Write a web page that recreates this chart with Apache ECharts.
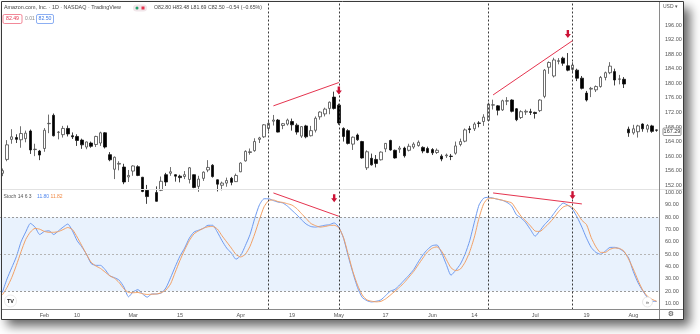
<!DOCTYPE html>
<html>
<head>
<meta charset="utf-8">
<script src="https://cdn.jsdelivr.net/npm/echarts@6/dist/echarts.min.js"></script>
<style>
  html, body { margin: 0; padding: 0; background: #fff; }
  #chart { width: 700px; height: 334px; }
</style>
</head>
<body>
<div id="chart"></div>
<script>
// trading days shown on the chart (AMZN daily, 2021)
const dates = [
  '2021-01-19','2021-01-20','2021-01-21','2021-01-22','2021-01-25','2021-01-26','2021-01-27','2021-01-28','2021-01-29',
  '2021-02-01','2021-02-02','2021-02-03','2021-02-04','2021-02-05','2021-02-08','2021-02-09','2021-02-10','2021-02-11','2021-02-12',
  '2021-02-16','2021-02-17','2021-02-18','2021-02-19','2021-02-22','2021-02-23','2021-02-24','2021-02-25','2021-02-26',
  '2021-03-01','2021-03-02','2021-03-03','2021-03-04','2021-03-05','2021-03-08','2021-03-09','2021-03-10','2021-03-11','2021-03-12',
  '2021-03-15','2021-03-16','2021-03-17','2021-03-18','2021-03-19','2021-03-22','2021-03-23','2021-03-24','2021-03-25','2021-03-26',
  '2021-03-29','2021-03-30','2021-03-31',
  '2021-04-01','2021-04-05','2021-04-06','2021-04-07','2021-04-08','2021-04-09','2021-04-12','2021-04-13','2021-04-14','2021-04-15',
  '2021-04-16','2021-04-19','2021-04-20','2021-04-21','2021-04-22','2021-04-23','2021-04-26','2021-04-27','2021-04-28','2021-04-29','2021-04-30',
  '2021-05-03','2021-05-04','2021-05-05','2021-05-06','2021-05-07','2021-05-10','2021-05-11','2021-05-12','2021-05-13','2021-05-14',
  '2021-05-17','2021-05-18','2021-05-19','2021-05-20','2021-05-21','2021-05-24','2021-05-25','2021-05-26','2021-05-27','2021-05-28',
  '2021-06-01','2021-06-02','2021-06-03','2021-06-04','2021-06-07','2021-06-08','2021-06-09','2021-06-10','2021-06-11',
  '2021-06-14','2021-06-15','2021-06-16','2021-06-17','2021-06-18','2021-06-21','2021-06-22','2021-06-23','2021-06-24','2021-06-25',
  '2021-06-28','2021-06-29','2021-06-30',
  '2021-07-01','2021-07-02','2021-07-06','2021-07-07','2021-07-08','2021-07-09','2021-07-12','2021-07-13','2021-07-14','2021-07-15',
  '2021-07-16','2021-07-19','2021-07-20','2021-07-21','2021-07-22','2021-07-23','2021-07-26','2021-07-27','2021-07-28','2021-07-29','2021-07-30',
  '2021-08-02','2021-08-03','2021-08-04','2021-08-05','2021-08-06','2021-08-09'
];

const openP = [
  155.3,159.1,164.6,165.1,164.5,164.8,166.9,161.8,161.4,
  162.1,168.9,171.2,166.5,165.9,167.6,165.6,165.4,164.4,162.5,163.6,163.2,163.6,166.4,160.4,156.4,157.8,157.0,154.3,
  155.9,157.1,154.2,150.6,149.6,150.0,150.6,154.9,155.3,154.9,154.5,154.4,153.6,154.9,151.7,153.9,156.2,157.5,153.5,152.0,152.6,153.9,153.0,
  155.7,158.7,161.0,161.5,164.6,165.3,167.6,169.6,169.9,168.4,168.8,169.5,168.5,165.5,168.3,165.6,167.1,170.8,171.6,173.1,176.2,
  174.0,167.6,167.0,163.3,165.8,164.0,156.8,159.4,159.1,159.0,162.0,164.3,161.6,161.9,162.2,161.6,162.5,162.9,162.4,162.1,
  161.8,161.0,160.0,160.1,160.0,160.8,163.2,164.1,167.5,167.5,169.1,169.5,169.8,174.0,173.8,172.7,175.1,175.4,173.0,170.6,172.1,172.2,
  172.0,172.5,176.4,184.4,182.0,186.0,186.9,184.8,183.8,183.6,181.4,177.3,178.4,178.2,179.1,181.6,182.9,183.2,181.1,181.1,167.4,
  166.4,166.7,168.8,167.4,168.3,167.2
];
const closeP = [
  156.0,163.1,165.3,164.6,166.2,166.3,161.7,161.9,160.3,
  167.1,169.0,165.6,166.6,167.6,166.1,165.3,164.3,163.1,163.9,162.7,165.4,166.4,162.5,159.0,159.7,158.0,152.9,154.7,
  157.3,154.7,150.3,148.9,150.0,147.6,153.1,152.9,155.7,154.5,154.1,154.9,156.8,151.4,153.7,155.6,156.9,154.4,152.3,152.6,153.3,152.8,154.7,
  158.1,161.3,161.2,164.0,165.0,168.6,169.0,169.9,166.6,168.9,169.9,168.6,166.6,168.1,165.3,167.0,170.4,172.1,172.9,174.8,173.1,
  169.1,165.4,163.5,165.2,164.5,159.5,161.2,157.6,158.0,161.1,163.5,161.7,159.5,162.2,160.1,162.7,163.3,163.8,161.4,161.0,
  160.9,161.6,159.2,160.3,159.9,162.8,164.0,167.2,167.3,168.8,169.0,170.7,174.3,174.1,172.6,175.2,175.2,172.3,170.0,172.2,172.3,172.0,
  171.7,175.4,183.6,185.7,186.4,186.2,185.5,183.6,185.0,181.4,178.6,175.4,178.6,179.1,181.6,182.9,184.7,180.9,181.2,179.8,166.4,
  167.5,168.3,167.5,168.4,166.8,167.1
];
const lowP = [
  154.5,158.6,163.4,163.6,162.3,163.8,160.6,160.0,158.9,
  161.2,166.3,165.4,164.6,165.1,165.4,164.7,162.8,162.0,161.9,162.3,162.5,162.8,162.1,158.6,153.7,156.1,152.3,152.9,
  154.6,154.5,150.1,146.9,144.0,147.5,150.4,151.8,154.6,153.0,152.8,153.7,152.5,151.2,150.2,153.2,155.6,154.1,150.3,150.6,151.6,152.0,152.9,
  155.6,158.5,160.4,161.2,163.6,165.0,166.8,168.4,166.5,167.4,168.4,167.0,165.9,165.0,164.9,165.4,166.5,170.0,170.9,171.5,172.8,
  168.6,164.0,163.2,161.7,164.2,159.3,156.2,157.4,156.9,158.8,161.1,161.5,159.3,160.9,159.6,161.3,162.0,162.6,160.8,160.8,
  160.3,160.6,158.6,159.5,158.9,160.4,162.7,163.8,166.3,166.9,167.9,168.3,169.6,172.8,171.2,172.4,174.0,172.0,169.6,170.2,171.3,171.3,
  170.3,172.1,175.9,182.6,181.6,185.2,184.8,183.3,182.8,180.6,178.3,175.0,176.2,177.6,178.8,180.8,182.5,179.4,179.7,178.7,165.3,
  165.9,165.1,166.7,166.5,166.4,166.7
];
const highP = [
  156.6,164.4,167.4,166.0,168.2,167.0,167.3,163.4,161.7,
  167.7,171.4,171.7,166.9,168.3,168.4,166.5,166.0,164.8,164.0,164.0,165.6,166.7,166.6,161.1,159.9,158.6,157.9,156.2,
  157.5,157.5,154.3,152.1,150.3,151.7,154.4,155.4,157.0,155.0,154.9,155.9,157.0,155.0,154.6,155.8,158.9,157.8,153.6,153.0,154.1,154.3,155.2,
  158.3,161.6,162.1,164.9,165.3,168.8,169.7,171.3,170.2,169.1,170.3,170.3,169.0,168.2,168.6,168.3,170.9,172.3,173.3,175.0,177.7,
  174.4,167.9,167.4,165.4,166.2,164.2,161.6,160.7,160.3,161.3,163.6,164.5,161.8,162.8,162.6,163.4,163.8,164.3,162.7,162.6,
  162.2,162.1,160.5,160.7,160.6,164.0,164.8,167.6,168.3,169.3,169.6,171.5,174.7,175.5,174.0,175.5,176.2,175.6,173.2,172.6,172.8,173.0,
  172.2,175.6,183.9,186.0,187.0,186.9,187.3,188.3,185.8,184.0,182.0,177.9,179.0,179.4,182.0,183.2,185.8,184.0,182.3,181.7,168.1,
  168.6,168.6,169.0,168.8,168.6,167.3
];

// Stoch 14 6 3 (%K blue, %D orange)
const stochK = [
  19,30,39,48,60,68,75,72,66,
  68.5,69,66,69,72,74.5,69,61,56,50,42.5,41,41,37.5,32.5,31,29,23.5,15.5,
  19.5,21.3,17.8,15.2,17.8,17.8,18.6,22.7,31,40,48.5,55,63,68,69.5,71,73.5,73.5,68,61,55,51,46,
  49,57,66,79,90,95,95,93.5,92.3,91.6,89,85.5,82,78,74.5,72.5,72,72.7,73.5,74,75.4,
  72,63,48.5,35,23,15,12.4,11.3,11.9,13,16.5,20,21.5,25,29,33,37.5,43.8,49.6,54,
  57,57.5,51,41.6,33,37,42,50,61,76,90,95.5,96.2,95.5,94.5,93.7,92,89,82,79.5,75.5,70,
  64.6,69,74,78,83,88,91.5,89.7,86.5,80,72,63,55.5,51.5,50,52.5,55.5,55.6,54.5,52,47,
  36,27,20.5,15,12,11.8
];
const stochD = [
  17,23,31,41,52,62,68,71,70.3,
  68.5,67.8,67.8,68.4,70,71.7,70,64,57,50,43.5,40.5,38.5,35.5,32.5,30.5,27,22,19,
  18.8,19,18,17.4,17.6,17.8,18.8,21,26,35.5,45,53.5,61,66.5,69,71,72.3,72.5,70.5,65,60,55,49.8,
  47.8,50,56.5,66.5,78,88.5,93.6,94,92.7,92,91,89.8,87,83,79,75,73.2,72,72.5,73.3,73.5,
  71.5,63.5,50,36,25,17,13,11.9,11.4,11.8,13.8,16.8,20,23.3,27,31.5,36,41.5,47,52,
  55,56,52.4,45.7,39,36.7,38,43.5,52,64,79.5,91,95.3,95.4,94.7,93.8,92.8,91.6,86.2,80.8,77,73,
  68.8,68.5,71.5,75.2,79.5,84.5,88.3,89.5,88,83.5,77.5,74,63.5,56,51.5,51.5,54,55,54.8,52.5,46,
  38,29,21,16,13.5,11.82
];

// time axis labels
const xTickLabels = {
  '2021-02-01': 'Feb', '2021-02-10': '10', '2021-03-01': 'Mar', '2021-03-15': '15',
  '2021-04-01': 'Apr', '2021-04-19': '19', '2021-05-03': 'May', '2021-05-17': '17',
  '2021-06-01': 'Jun', '2021-06-14': '14', '2021-07-01': 'Jul', '2021-07-19': '19', '2021-08-02': 'Aug'
};
const priceTicks = [152, 156, 160, 164, 168, 172, 176, 180, 184, 188, 192, 196];
const stochTicks = [10, 20, 30, 40, 50, 60, 70, 80, 90, 100];
const stochLevels = [80, 50, 20];

// drawings: vertical markers, divergence lines, arrows (bar index, value)
const markerBars = [57, 72, 104, 122];
const priceTrends = [[[58, 173.8], [72, 180.2]], [[105, 176.8], [122, 191.7]]];
const stochTrends = [[[58, 99.7], [72, 80.8]], [[105, 99.7], [124, 90.8]]];
const priceArrows = [[72, 178.0], [121, 193.5]];
const stochArrows = [[71, 95.4], [122, 97.8]];
const lastPrice = '167.29';

const RED = '#e5344f';
const ARROW = 'path://M3,0 L7,0 L7,5 L10,5 L5,10 L0,5 L3,5 Z';
const FONT = 'Liberation Sans';

const chart = echarts.init(document.getElementById('chart'));

const candles = dates.map((d, i) => [openP[i], closeP[i], lowP[i], highP[i]]);

const vLines = markerBars.map(i => ({
  xAxis: dates[i],
  lineStyle: { color: '#3a3a3a', type: [2, 2], width: 1 }
}));
const trendLines = list => list.map(t => [
  { coord: [dates[t[0][0]], t[0][1]], lineStyle: { color: RED, width: 1, type: 'solid' } },
  { coord: [dates[t[1][0]], t[1][1]] }
]);
const arrows = list => list.map(a => ({ coord: [dates[a[0]], a[1]] }));

const axisLabelStyle = { fontSize: 5.5, color: '#555', fontFamily: FONT };

const option = {
  animation: false,
  backgroundColor: 'transparent',
  grid: [
    { left: 0, width: 659, top: 2, height: 187.5 },
    { left: 0, width: 659, top: 190, height: 119.5 }
  ],
  xAxis: [
    { type: 'category', data: dates, gridIndex: 0, show: false },
    {
      type: 'category', data: dates, gridIndex: 1,
      axisLine: { show: false },
      axisTick: { show: false },
      splitLine: { show: false },
      axisLabel: {
        ...axisLabelStyle,
        margin: 3,
        interval: (idx, val) => val in xTickLabels,
        formatter: val => xTickLabels[val] || ''
      }
    }
  ],
  yAxis: [
    {
      type: 'value', gridIndex: 0, position: 'right', min: 150.84, max: 202.31,
      axisLine: { show: false }, axisTick: { show: false }, splitLine: { show: false },
      axisLabel: { ...axisLabelStyle, margin: 6, customValues: priceTicks, formatter: v => v.toFixed(2) }
    },
    {
      type: 'value', gridIndex: 1, position: 'right', min: 5.2, max: 102.1,
      axisLine: { show: false }, axisTick: { show: false }, splitLine: { show: false },
      axisLabel: { ...axisLabelStyle, margin: 6, customValues: stochTicks, formatter: v => v.toFixed(2) }
    }
  ],
  series: [
    {
      name: 'AMZN', type: 'candlestick', xAxisIndex: 0, yAxisIndex: 0,
      data: candles, barWidth: 3, clip: true,
      itemStyle: { color: '#fff', color0: '#000', borderColor: '#4a4a4a', borderColor0: '#111', borderWidth: 0.8 },
      markLine: {
        silent: true, symbol: 'none', label: { show: false },
        data: vLines.concat(trendLines(priceTrends))
      },
      markPoint: {
        silent: true, symbol: ARROW, symbolSize: [6, 8], label: { show: false },
        itemStyle: { color: '#cc1236' },
        data: arrows(priceArrows)
      }
    },
    {
      name: '%K', type: 'line', xAxisIndex: 1, yAxisIndex: 1,
      data: stochK, showSymbol: false, smooth: 0.2,
      lineStyle: { color: '#6e9af0', width: 1 },
      markArea: {
        silent: true,
        itemStyle: { color: '#e9f2fd' },
        data: [[{ yAxis: 20 }, { yAxis: 80 }]]
      },
      markLine: {
        silent: true, symbol: 'none', label: { show: false },
        data: stochLevels.map(v => ({
          yAxis: v, lineStyle: { color: v === 50 ? '#b5b5b5' : '#9a9a9a', type: [2, 2], width: 1 }
        })).concat(vLines, trendLines(stochTrends))
      },
      markPoint: {
        silent: true, symbol: ARROW, symbolSize: [6, 8], label: { show: false },
        itemStyle: { color: '#cc1236' },
        data: arrows(stochArrows)
      }
    },
    {
      name: '%D', type: 'line', xAxisIndex: 1, yAxisIndex: 1,
      data: stochD, showSymbol: false, smooth: 0.2,
      lineStyle: { color: '#f2a065', width: 1 }
    }
  ],
  graphic: [
    // frame with drop shadow
    {
      type: 'rect', z: -100, silent: true,
      shape: { x: 1, y: 1, width: 683, height: 318 },
      style: { fill: '#fff', shadowBlur: 10, shadowOffsetX: 6, shadowOffsetY: 7, shadowColor: 'rgba(0,0,0,0.6)' }
    },
    {
      type: 'line', z: 90, silent: true,
      shape: { x1: 1.5, y1: 189.5, x2: 683.5, y2: 189.5 },
      style: { stroke: '#e2e2e2', lineWidth: 1 }
    },
    {
      type: 'line', z: 90, silent: true,
      shape: { x1: 1.5, y1: 309.5, x2: 683.5, y2: 309.5 },
      style: { stroke: '#8a8a8a', lineWidth: 1 }
    },
    {
      type: 'line', z: 90, silent: true,
      shape: { x1: 659.5, y1: 1.5, x2: 659.5, y2: 319.5 },
      style: { stroke: '#8a8a8a', lineWidth: 1 }
    },
    {
      type: 'rect', z: 100, silent: true,
      shape: { x: 1.5, y: 1.5, width: 682, height: 318 },
      style: { fill: null, stroke: '#3a3a3a', lineWidth: 1 }
    },
    // header
    {
      type: 'text', z: 100, left: 4, top: 5,
      style: { text: 'Amazon.com, Inc. · 1D · NASDAQ · TradingView', fill: '#444', fontSize: 5.4, fontFamily: FONT }
    },
    {
      type: 'rect', z: 100, shape: { x: 133, y: 4.5, width: 14, height: 7, r: 3.5 },
      style: { fill: '#f1e6ea' }
    },
    { type: 'circle', z: 101, shape: { cx: 137, cy: 8, r: 1.5 }, style: { fill: '#22a06b' } },
    { type: 'rect', z: 101, shape: { x: 141.5, y: 6.5, width: 3, height: 3 }, style: { fill: '#e5344f' } },
    {
      type: 'text', z: 100, left: 154, top: 5,
      style: { text: 'O82.80 H83.48 L81.69 C82.50 −0.54 (−0.65%)', fill: '#444', fontSize: 5.2, fontFamily: FONT }
    },
    {
      type: 'rect', z: 100, shape: { x: 3, y: 14.5, width: 19, height: 9, r: 1.5 },
      style: { fill: '#fff', stroke: '#ef6a7d', lineWidth: 0.8 }
    },
    {
      type: 'text', z: 101, x: 12.5, y: 19,
      style: { text: '82.49', fill: '#e5344f', fontSize: 5.2, fontFamily: FONT, align: 'center', verticalAlign: 'middle' }
    },
    {
      type: 'text', z: 100, x: 25, y: 19,
      style: { text: '0.01', fill: '#888', fontSize: 5, fontFamily: FONT, verticalAlign: 'middle' }
    },
    {
      type: 'rect', z: 100, shape: { x: 36.5, y: 14.5, width: 17, height: 9, r: 1.5 },
      style: { fill: '#fff', stroke: '#6e9af0', lineWidth: 0.8 }
    },
    {
      type: 'text', z: 101, x: 45, y: 19,
      style: { text: '82.50', fill: '#3f7be6', fontSize: 5.2, fontFamily: FONT, align: 'center', verticalAlign: 'middle' }
    },
    // price scale extras
    {
      type: 'text', z: 100, x: 663, y: 7,
      style: { text: 'USD ▾', fill: '#555', fontSize: 5, fontFamily: FONT, verticalAlign: 'middle' }
    },
    {
      type: 'rect', z: 100, shape: { x: 663, y: 128, width: 18, height: 7.5, r: 1 },
      style: { fill: '#fff', stroke: '#7a7a7a', lineWidth: 0.8 }
    },
    {
      type: 'text', z: 101, x: 672, y: 131.8,
      style: { text: lastPrice, fill: '#333', fontSize: 5.5, fontFamily: FONT, align: 'center', verticalAlign: 'middle' }
    },
    // stoch legend
    {
      type: 'text', z: 100, left: 3.5, top: 194.5,
      style: { text: 'Stoch 14 6 3', fill: '#555', fontSize: 5, fontFamily: FONT }
    },
    {
      type: 'text', z: 100, left: 37, top: 194.5,
      style: { text: '11.80', fill: '#4f86ee', fontSize: 5, fontFamily: FONT }
    },
    {
      type: 'text', z: 100, left: 50.5, top: 194.5,
      style: { text: '11.82', fill: '#f08a45', fontSize: 5, fontFamily: FONT }
    },
    // logo and icons
    { type: 'circle', z: 100, shape: { cx: 10.5, cy: 301, r: 6 }, style: { fill: '#fff', stroke: '#e4e4e4', lineWidth: 0.8 } },
    {
      type: 'text', z: 101, x: 10.5, y: 301.2,
      style: { text: 'TV', fill: '#222', fontSize: 5.5, fontWeight: 'bold', fontFamily: FONT, align: 'center', verticalAlign: 'middle' }
    },
    { type: 'circle', z: 100, shape: { cx: 647.5, cy: 302, r: 5 }, style: { fill: '#fff', stroke: '#e0e0e0', lineWidth: 0.8 } },
    {
      type: 'text', z: 101, x: 647.5, y: 302,
      style: { text: '»', fill: '#555', fontSize: 6, fontFamily: FONT, align: 'center', verticalAlign: 'middle' }
    },
    {
      type: 'text', z: 100, x: 671, y: 314.5,
      style: { text: '⚙', fill: '#444', fontSize: 7, fontFamily: 'DejaVu Sans', align: 'center', verticalAlign: 'middle' }
    }
  ]
};

chart.setOption(option);
window.addEventListener('resize', () => chart.resize());
</script>
</body>
</html>
